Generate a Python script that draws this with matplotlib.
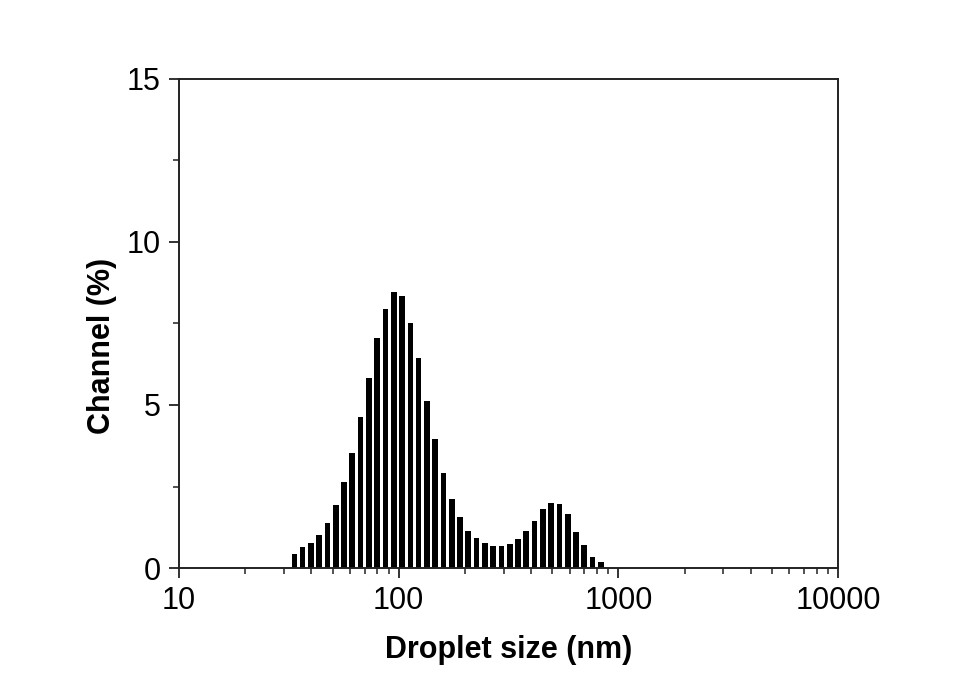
import matplotlib.pyplot as plt
from matplotlib.ticker import FixedLocator, LogLocator, NullFormatter

plt.rcParams['font.family'] = ['Liberation Sans', 'DejaVu Sans']

# droplet size channels (nm) and their share (%)
sizes = [33.5, 36.5, 39.9, 43.5, 47.4, 51.7, 56.4, 61.5, 67.1, 73.2,
         79.8, 87.1, 95.0, 103.6, 113.0, 123.2, 134.4, 146.6, 159.9, 174.4,
         190.2, 207.5, 226.3, 246.8, 269.2, 293.6, 320.2, 349.3, 381.0, 415.5,
         453.2, 494.3, 539.2, 588.1, 641.4, 699.6, 763.1, 832.3]
channel = [0.42, 0.63, 0.77, 1.00, 1.39, 1.92, 2.63, 3.54, 4.64, 5.84,
           7.06, 7.94, 8.46, 8.33, 7.52, 6.45, 5.12, 3.96, 2.92, 2.12,
           1.55, 1.15, 0.91, 0.76, 0.67, 0.66, 0.74, 0.89, 1.13, 1.45,
           1.82, 1.99, 1.95, 1.65, 1.11, 0.70, 0.35, 0.17]

fig = plt.figure(figsize=(9.65, 6.75), dpi=100)
ax = fig.add_axes([0.1855, 0.1585, 0.683, 0.7245])

# bar width as a fixed fraction of a decade so bars look even on log axis
half = 10 ** 0.013
lefts = [s / half for s in sizes]
widths = [s * half - s / half for s in sizes]
ax.bar(lefts, channel, width=widths, align='edge', color='black', edgecolor='none')

ax.set_xscale('log')
ax.set_xlim(10, 10000)
ax.set_ylim(0, 15)

ax.xaxis.set_major_locator(FixedLocator([10, 100, 1000, 10000]))
ax.set_xticklabels(['10', '100', '1000', '10000'])
ax.xaxis.set_minor_locator(LogLocator(base=10, subs=range(2, 10)))
ax.xaxis.set_minor_formatter(NullFormatter())
ax.set_yticks([0, 5, 10, 15])
ax.set_yticks([2.5, 7.5, 12.5], minor=True)

for sp in ax.spines.values():
    sp.set_linewidth(1.4)
    sp.set_color('#222222')

ax.tick_params(which='major', direction='out', length=7, width=1.3,
               labelsize=22, color='#222222', pad=6)
ax.tick_params(which='minor', direction='out', length=4, width=1.1,
               color='#222222')
ax.tick_params(top=False, right=False, which='both')

ax.set_xlabel('Droplet size (nm)', fontsize=22, fontweight='bold')
ax.xaxis.set_label_coords(0.5, -0.138)
ax.set_ylabel('Channel (%)', fontsize=22, fontweight='bold')
ax.yaxis.set_label_coords(-0.094, 0.454)

fig.savefig('out.png', dpi=100)
